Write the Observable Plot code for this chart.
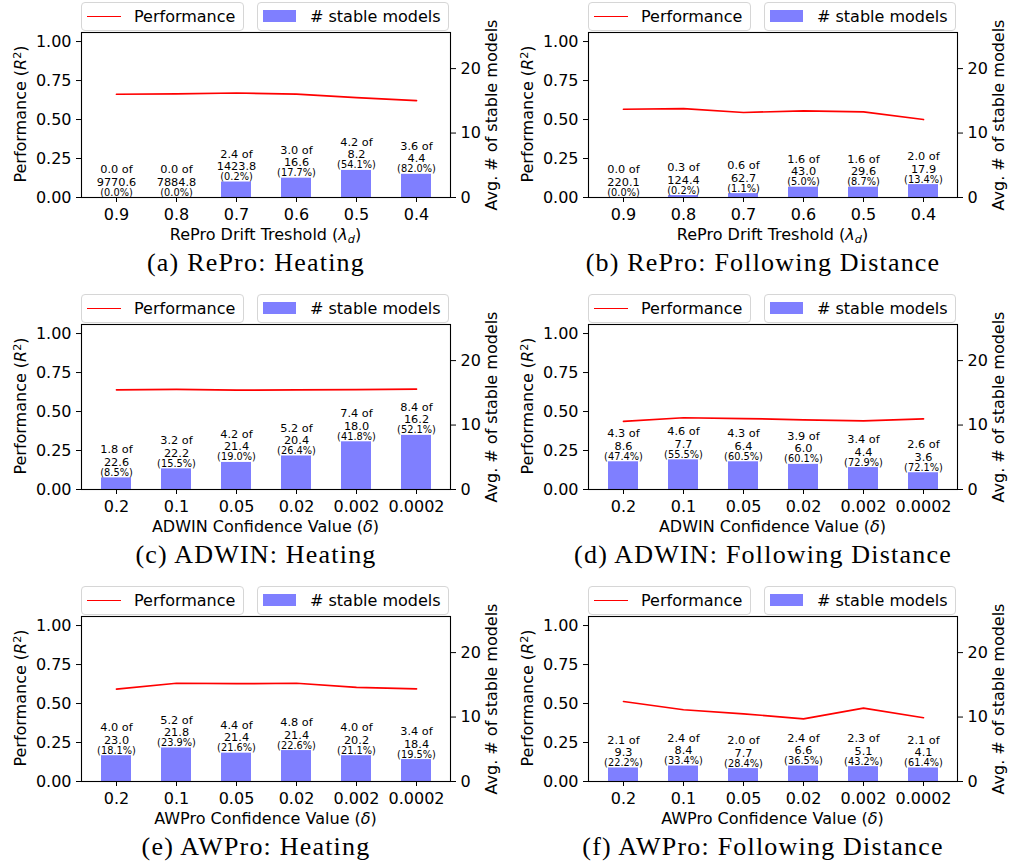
<!DOCTYPE html>
<html>
<head>
<meta charset="utf-8">
<script src="https://cdn.jsdelivr.net/npm/d3@7"></script>
<script src="https://cdn.jsdelivr.net/npm/@observablehq/plot@0.6"></script>
<style>
  html, body { margin: 0; padding: 0; background: white; }
  #fig { position: relative; width: 1010px; height: 867px; background: white; overflow: hidden;
         font-family: "DejaVu Sans", sans-serif; color: black; }
  .panel { position: absolute; width: 505px; height: 290px; }
  .panel svg { position: absolute; left: 0; top: 0; }
  .leg { position: absolute; box-sizing: border-box; border: 1px solid #d6d6d6; border-radius: 4px; background: white; }
  .leg .ln { position: absolute; height: 0; border-top: 1.7px solid #ff0000; }
  .leg .patch { position: absolute; background: #7f7fff; }
  .leg .tx { position: absolute; top: 0; font-size: 16px; line-height: 27px; white-space: nowrap; }
  .lab { position: absolute; font-size: 16px; line-height: 16px; white-space: nowrap; transform: translate(-50%, -50%); }
  .lab.rot { transform: translate(-50%, -50%) rotate(-90deg); }
  .lab sup { font-size: 0.7em; line-height: 0; vertical-align: 0.45em; }
  .lab sub { font-size: 0.7em; line-height: 0; vertical-align: -0.3em; }
  .cap { position: absolute; font-family: "Liberation Serif", serif; font-size: 26px; letter-spacing: 1.2px;
         line-height: 26px; white-space: nowrap; transform: translate(-50%, -50%); }
</style>
</head>
<body>
<div id="fig"></div>
<script>
// Parameter values on the x axes
const reproThresholds = ["0.9", "0.8", "0.7", "0.6", "0.5", "0.4"];
const confidenceValues = ["0.2", "0.1", "0.05", "0.02", "0.002", "0.0002"];

// (a) RePro: Heating
const reproHeatingPerf   = [0.662, 0.664, 0.670, 0.663, 0.640, 0.621];
const reproHeatingStable = [0.0, 0.0, 2.4, 3.0, 4.2, 3.6];
const reproHeatingTotal  = [9770.6, 7884.8, 1423.8, 16.6, 8.2, 4.4];
const reproHeatingPct    = [0.0, 0.0, 0.2, 17.7, 54.1, 82.0];

// (b) RePro: Following Distance
const reproFollowPerf   = [0.566, 0.570, 0.545, 0.555, 0.549, 0.500];
const reproFollowStable = [0.0, 0.3, 0.6, 1.6, 1.6, 2.0];
const reproFollowTotal  = [220.1, 124.4, 62.7, 43.0, 29.6, 17.9];
const reproFollowPct    = [0.0, 0.2, 1.1, 5.0, 8.7, 13.4];

// (c) ADWIN: Heating
const adwinHeatingPerf   = [0.639, 0.642, 0.637, 0.639, 0.640, 0.644];
const adwinHeatingStable = [1.8, 3.2, 4.2, 5.2, 7.4, 8.4];
const adwinHeatingTotal  = [22.6, 22.2, 21.4, 20.4, 18.0, 16.2];
const adwinHeatingPct    = [8.5, 15.5, 19.0, 26.4, 41.8, 52.1];

// (d) ADWIN: Following Distance
const adwinFollowPerf   = [0.437, 0.460, 0.455, 0.447, 0.440, 0.453];
const adwinFollowStable = [4.3, 4.6, 4.3, 3.9, 3.4, 2.6];
const adwinFollowTotal  = [8.6, 7.7, 6.4, 6.0, 4.4, 3.6];
const adwinFollowPct    = [47.4, 55.5, 60.5, 60.1, 72.9, 72.1];

// (e) AWPro: Heating
const awproHeatingPerf   = [0.592, 0.630, 0.627, 0.630, 0.604, 0.594];
const awproHeatingStable = [4.0, 5.2, 4.4, 4.8, 4.0, 3.4];
const awproHeatingTotal  = [23.0, 21.8, 21.4, 21.4, 20.2, 18.4];
const awproHeatingPct    = [18.1, 23.9, 21.6, 22.6, 21.1, 19.5];

// (f) AWPro: Following Distance
const awproFollowPerf   = [0.513, 0.460, 0.434, 0.402, 0.470, 0.409];
const awproFollowStable = [2.1, 2.4, 2.0, 2.4, 2.3, 2.1];
const awproFollowTotal  = [9.3, 8.4, 7.7, 6.6, 5.1, 4.1];
const awproFollowPct    = [22.2, 33.4, 28.4, 36.5, 43.2, 61.4];

const reproTitle = 'RePro Drift Treshold (<i>λ</i><sub><i>d</i></sub>)';
const adwinTitle = 'ADWIN Confidence Value (<i>δ</i>)';
const awproTitle = 'AWPro Confidence Value (<i>δ</i>)';

const panels = [
  {tag: "(a)", name: "RePro: Heating", xTitle: reproTitle, cats: reproThresholds,
   perf: reproHeatingPerf, stable: reproHeatingStable, total: reproHeatingTotal, pct: reproHeatingPct},
  {tag: "(b)", name: "RePro: Following Distance", xTitle: reproTitle, cats: reproThresholds,
   perf: reproFollowPerf, stable: reproFollowStable, total: reproFollowTotal, pct: reproFollowPct},
  {tag: "(c)", name: "ADWIN: Heating", xTitle: adwinTitle, cats: confidenceValues,
   perf: adwinHeatingPerf, stable: adwinHeatingStable, total: adwinHeatingTotal, pct: adwinHeatingPct},
  {tag: "(d)", name: "ADWIN: Following Distance", xTitle: adwinTitle, cats: confidenceValues,
   perf: adwinFollowPerf, stable: adwinFollowStable, total: adwinFollowTotal, pct: adwinFollowPct},
  {tag: "(e)", name: "AWPro: Heating", xTitle: awproTitle, cats: confidenceValues,
   perf: awproHeatingPerf, stable: awproHeatingStable, total: awproHeatingTotal, pct: awproHeatingPct},
  {tag: "(f)", name: "AWPro: Following Distance", xTitle: awproTitle, cats: confidenceValues,
   perf: awproFollowPerf, stable: awproFollowStable, total: awproFollowTotal, pct: awproFollowPct}
];

const W = 505, H = 250;
const margins = {marginTop: 32, marginBottom: 53, marginLeft: 81, marginRight: 55};
const svgStyle = {background: "transparent", fontFamily: "DejaVu Sans", color: "black", overflow: "visible"};
const bandX = (cats, extra = {}) => ({type: "band", domain: cats, paddingInner: 0.5, paddingOuter: 0.28, align: 0.5, ...extra});
const fmt1 = d3.format(".1f");

function el(parent, cls, html, css) {
  const e = document.createElement("div");
  e.className = cls;
  if (html != null) e.innerHTML = html;
  Object.assign(e.style, css);
  parent.appendChild(e);
  return e;
}

function drawPanel(p, col, row) {
  const fig = document.getElementById("fig");
  const div = el(fig, "panel", null, {left: col * 507 + "px", top: row * 292 + "px"});
  const rows = p.cats.map((c, i) => ({cat: c, perf: p.perf[i], stable: p.stable[i], total: p.total[i], pct: p.pct[i]}));

  // Right axis: average number of stable models (bars with count labels)
  const barPlot = Plot.plot({
    width: W, height: H, ...margins, style: svgStyle,
    x: bandX(p.cats, {axis: null}),
    y: {domain: [0, 25.6]},
    marks: [
      Plot.barY(rows, {x: "cat", y: "stable", fill: "#7f7fff"}),
      Plot.text(rows, {x: "cat", y: "stable", text: d => `${fmt1(d.stable)} of\n${fmt1(d.total)}`,
        lineAnchor: "bottom", dy: -12, fontSize: 11.3, lineHeight: 1.1, fill: "black"}),
      Plot.text(rows, {x: "cat", y: "stable", text: d => `(${fmt1(d.pct)}%)`,
        lineAnchor: "bottom", dy: -2, fontSize: 9.8, fill: "black"}),
      Plot.axisY({anchor: "right", ticks: [0, 10, 20], tickSize: 5, tickPadding: 5, fontSize: 16, label: null})
    ]
  });
  div.appendChild(barPlot);

  // Left axis: performance line, frame and category axis
  const linePlot = Plot.plot({
    width: W, height: H, ...margins, style: svgStyle,
    x: bandX(p.cats),
    y: {domain: [0, 1.058]},
    marks: [
      Plot.lineY(rows, {x: "cat", y: "perf", stroke: "#ff0000", strokeWidth: 1.7}),
      Plot.frame({stroke: "black", strokeWidth: 1.1}),
      Plot.axisY({ticks: [0, 0.25, 0.5, 0.75, 1], tickFormat: d3.format(".2f"), tickSize: 5, tickPadding: 5, fontSize: 16, label: null}),
      Plot.axisX({tickSize: 5, tickPadding: 6, fontSize: 16, label: null})
    ]
  });
  div.appendChild(linePlot);

  // Legends above the frame
  const leg1 = el(div, "leg", null, {left: "81px", top: "2px", width: "163px", height: "29px"});
  el(leg1, "ln", null, {left: "5px", top: "13px", width: "34px"});
  el(leg1, "tx", "Performance", {left: "52px"});
  const leg2 = el(div, "leg", null, {left: "257px", top: "2px", width: "192px", height: "29px"});
  el(leg2, "patch", null, {left: "5px", top: "7px", width: "33px", height: "12px"});
  el(leg2, "tx", "# stable models", {left: "52px"});

  // Axis titles and caption
  el(div, "lab rot", 'Performance (<i>R</i><sup>2</sup>)', {left: "21px", top: "114px"});
  el(div, "lab rot", 'Avg. # of stable models', {left: "492px", top: "115px"});
  el(div, "lab", p.xTitle, {left: "265.5px", top: "235px"});
  el(div, "cap", `${p.tag} ${p.name}`, {left: "256px", top: "263px"});
}

panels.forEach((p, i) => drawPanel(p, i % 2, Math.floor(i / 2)));
</script>
</body>
</html>
